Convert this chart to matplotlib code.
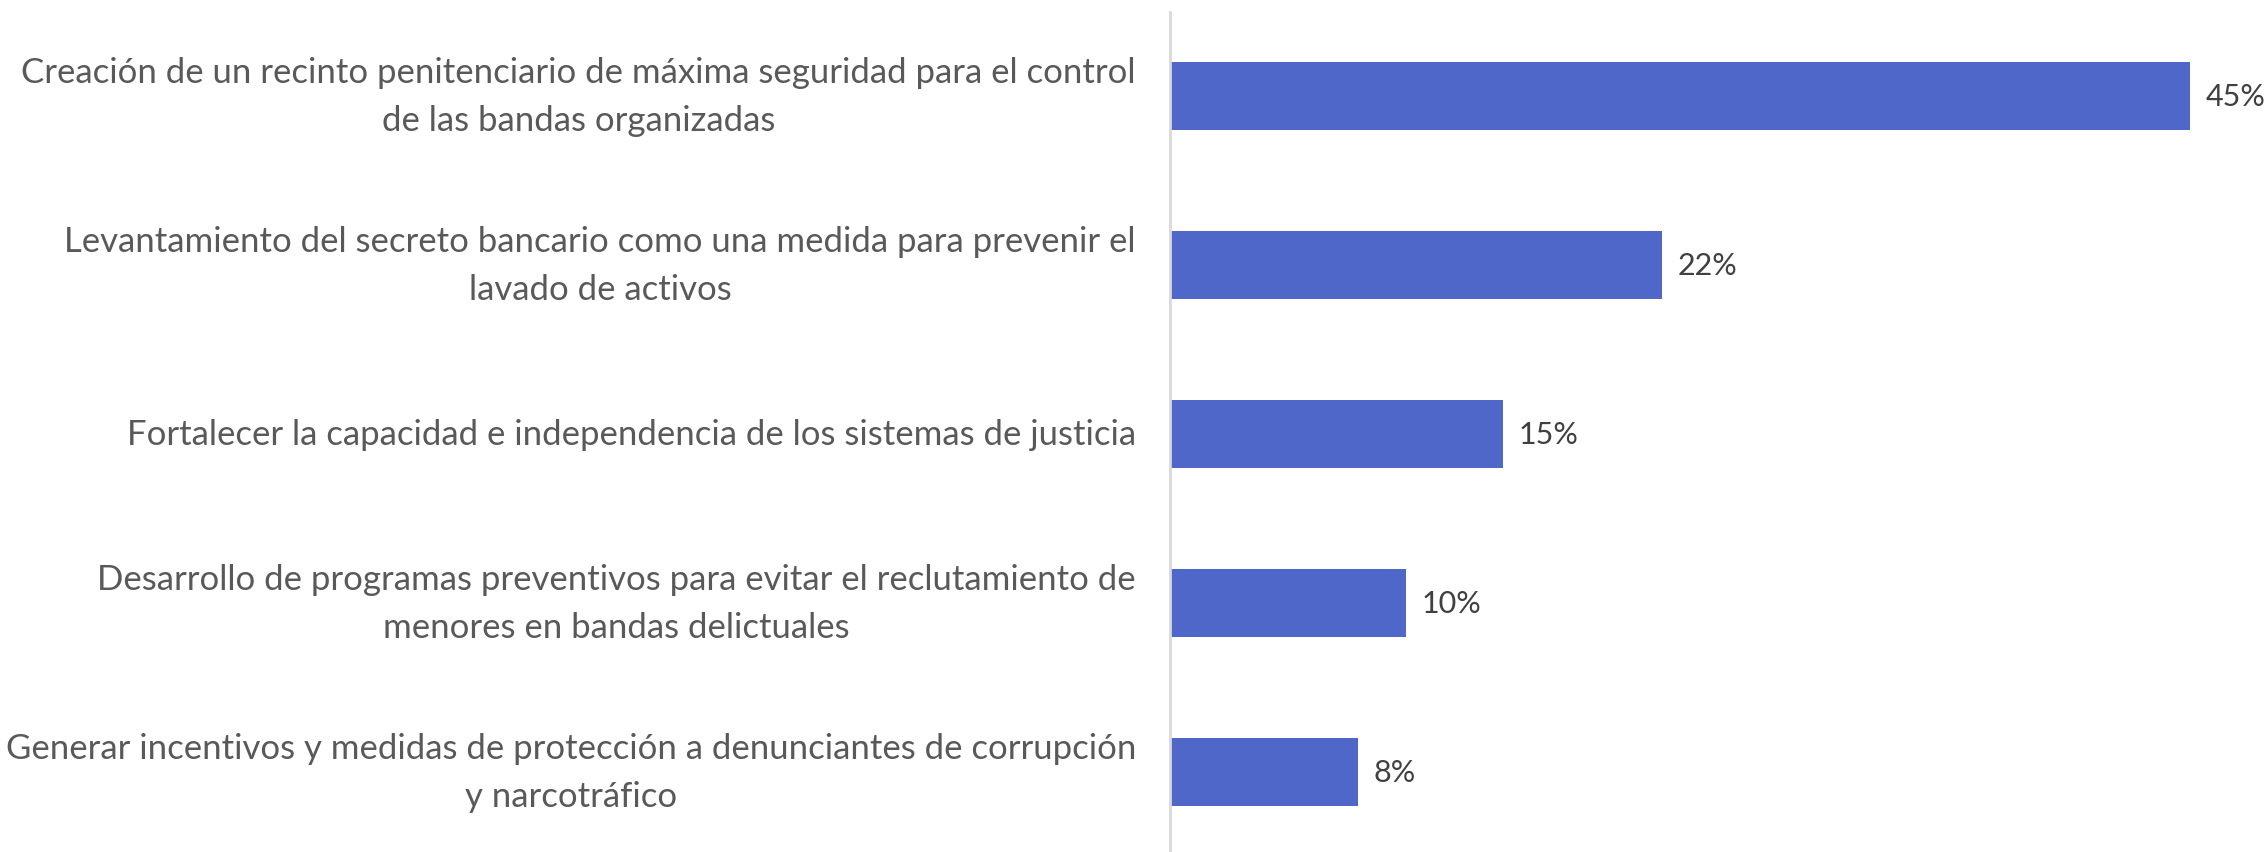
import matplotlib.pyplot as plt

plt.rcParams['font.family'] = ['Lato', 'DejaVu Sans']

categories = [
    "Creación de un recinto penitenciario de máxima seguridad para el control\nde las bandas organizadas",
    "Levantamiento del secreto bancario como una medida para prevenir el\nlavado de activos",
    "Fortalecer la capacidad e independencia de los sistemas de justicia",
    "Desarrollo de programas preventivos para evitar el reclutamiento de\nmenores en bandas delictuales",
    "Generar incentivos y medidas de protección a denunciantes de corrupción\ny narcotráfico",
]
values = [45.0, 21.7, 14.7, 10.4, 8.3]

bar_color = "#4F67C8"
label_color = "#595959"
value_color = "#404040"

fig = plt.figure(figsize=(22.67, 8.53), dpi=100)
ax = fig.add_axes([1170 / 2267, -0.005, 1 - 1170 / 2267, 0.9903])

pos = list(range(len(values)))
ax.barh(pos, values, height=0.4, color=bar_color)
ax.set_ylim(len(values) - 0.5, -0.5)
ax.set_xlim(0, 48.4)

for y, v in zip(pos, values):
    ax.text(v + 0.7, y, f"{v:.0f}%", va="center", ha="left",
            fontsize=22, color=value_color)

ax.set_yticks(pos)
ax.set_yticklabels(categories, fontsize=25.0, color=label_color,
                   multialignment="center", linespacing=1.6, va="center")
ax.tick_params(axis="y", length=0, pad=24.5)
ax.set_xticks([])

for s in ["top", "right", "bottom"]:
    ax.spines[s].set_visible(False)
ax.spines["left"].set_color("#D9D9D9")
ax.spines["left"].set_linewidth(2)

fig.savefig("out.png", dpi=100)
